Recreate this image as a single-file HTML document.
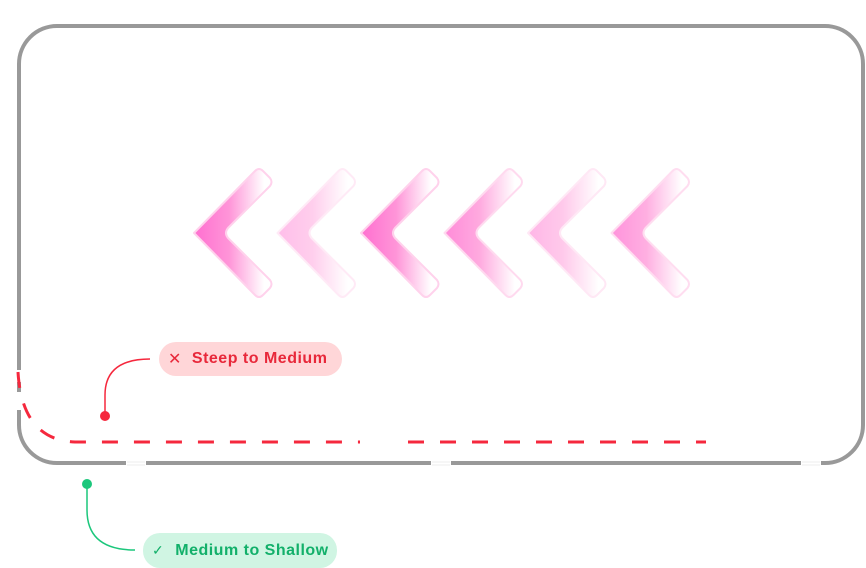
<!DOCTYPE html>
<html><head><meta charset="utf-8"><style>
html,body{margin:0;padding:0;background:#fff;}
body{width:866px;height:568px;position:relative;overflow:hidden;font-family:"Liberation Sans",sans-serif;}
.pill{position:absolute;border-radius:17px;font-size:16px;font-weight:bold;letter-spacing:0.5px;display:flex;align-items:center;box-sizing:border-box;}
</style></head><body>
<svg width="866" height="568" style="position:absolute;left:0;top:0">
<defs>
<linearGradient id="g" gradientUnits="userSpaceOnUse" x1="194" y1="0" x2="272" y2="0">
<stop offset="0" stop-color="#ff6fd0"/>
<stop offset="0.45" stop-color="#ff95d8"/>
<stop offset="0.9" stop-color="#ffffff"/>
</linearGradient>
<g id="chev">
<path d="M194,233 L255,171 Q259,167 263,171 L270,178 Q273,182 270,186 L228,228 Q224,233 228,238 L270,280 Q273,284 270,288 L263,295 Q259,299 255,295 Z" fill="url(#g)" stroke="#ffd2ec" stroke-width="2" stroke-linejoin="round"/>
</g>
</defs>
<rect x="19" y="26" width="844" height="437" rx="38" fill="none" stroke="#999" stroke-width="4"/>
<g stroke="#eee" stroke-width="1">
<rect x="126" y="460" width="20" height="6" fill="#fff" stroke="none"/>
<line x1="127" y1="462" x2="145" y2="462"/><line x1="127" y1="465" x2="145" y2="465"/>
<rect x="431" y="460" width="20" height="6" fill="#fff" stroke="none"/>
<line x1="432" y1="462" x2="450" y2="462"/><line x1="432" y1="465" x2="450" y2="465"/>
<rect x="801" y="460" width="20" height="6" fill="#fff" stroke="none"/>
<line x1="802" y1="462" x2="820" y2="462"/><line x1="802" y1="465" x2="820" y2="465"/>
</g>
<rect x="15" y="370" width="8" height="12" fill="#fff"/>
<rect x="15" y="392" width="8" height="18" fill="#fff"/>
<use href="#chev"/>
<use href="#chev" x="83.5" opacity="0.45"/>
<use href="#chev" x="167" />
<use href="#chev" x="250.5" opacity="0.8"/>
<use href="#chev" x="334" opacity="0.5"/>
<use href="#chev" x="417.5" opacity="0.75"/>
<path d="M18,372 Q22,440 75,442 L360,442" fill="none" stroke="#f5283d" stroke-width="3" stroke-dasharray="16,16"/>
<path d="M408,442 L706,442" fill="none" stroke="#f5283d" stroke-width="3" stroke-dasharray="16,16"/>
<path d="M105,416 L105,395 Q105,359 150,359" fill="none" stroke="#f5283d" stroke-width="1.5"/>
<circle cx="105" cy="416" r="5" fill="#f5283d"/>
<path d="M87,484 L87,510 Q87,550 135,550" fill="none" stroke="#1cc77c" stroke-width="1.5"/>
<circle cx="87" cy="484" r="5" fill="#1cc77c"/>
</svg>
<div class="pill" style="left:159px;top:342px;width:183px;height:34px;background:#ffd6d8;color:#e8283a;padding-left:9px;"><span style="font-weight:normal;font-size:16px;margin-right:10px;">✕</span>Steep to Medium</div>
<div class="pill" style="left:143px;top:533px;width:194px;height:35px;background:#d0f5e3;color:#12b06a;padding-left:9px;"><span style="font-weight:normal;font-size:14px;margin-right:11px;">✓</span>Medium to Shallow</div>
</body></html>
